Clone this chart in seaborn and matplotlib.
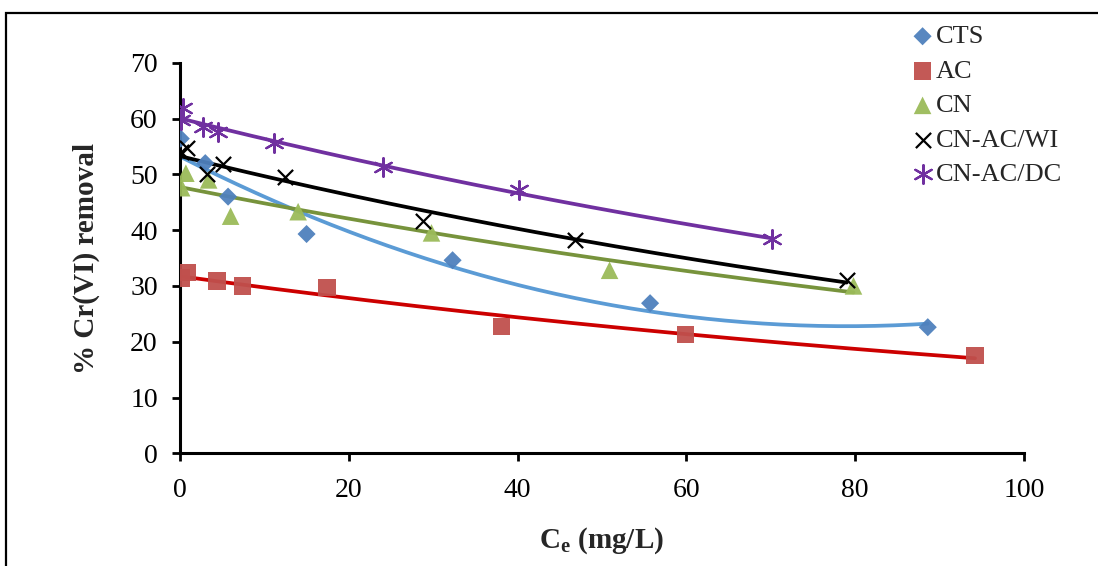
import numpy as np
import pandas as pd
import matplotlib
matplotlib.use("Agg")
import matplotlib.pyplot as plt
from matplotlib.patches import Rectangle
import seaborn as sns

# ---- data ----
cts_x = [0.1, 3.0, 5.7, 15.0, 32.3, 55.7, 88.6]
cts_y = [56.4, 52.0, 46.0, 39.3, 34.6, 26.9, 22.6]

ac_x = [0.2, 0.9, 4.4, 7.4, 17.4, 38.1, 59.9, 94.2]
ac_y = [31.4, 32.4, 30.9, 30.0, 29.7, 22.7, 21.3, 17.5]

cn_x = [0.2, 0.7, 3.4, 6.0, 14.0, 29.8, 50.9, 79.8]
cn_y = [47.6, 50.2, 49.0, 42.5, 43.3, 39.5, 32.8, 30.0]

wi_x = [0.1, 0.8, 3.2, 5.1, 12.4, 28.8, 46.8, 79.0]
wi_y = [54.0, 54.8, 50.1, 51.8, 49.5, 41.6, 38.3, 31.1]

dc_x = [0.4, 0.1, 2.7, 4.5, 11.1, 24.0, 40.2, 70.2]
dc_y = [61.8, 59.7, 58.4, 57.5, 55.7, 51.3, 47.1, 38.4]

names = ["CTS", "AC", "CN", "CN-AC/WI", "CN-AC/DC"]
xticks = [0, 20, 40, 60, 80, 100]
yticks = [0, 10, 20, 30, 40, 50, 60, 70]

series = {
    "CTS": (cts_x, cts_y),
    "AC": (ac_x, ac_y),
    "CN": (cn_x, cn_y),
    "CN-AC/WI": (wi_x, wi_y),
    "CN-AC/DC": (dc_x, dc_y),
}

# ---- styles ----
marker_col = {"CTS": "#4F81BD", "AC": "#C0504D", "CN": "#9BBB59",
              "CN-AC/WI": "#000000", "CN-AC/DC": "#7030A0"}
line_col = {"CTS": "#5B9BD5", "AC": "#CC0000", "CN": "#77933C",
            "CN-AC/WI": "#000000", "CN-AC/DC": "#7030A0"}
markers = {"CTS": "D", "AC": "s", "CN": "^", "CN-AC/WI": "x",
           "CN-AC/DC": (6, 2, 0)}
sizes = {"CTS": 85, "AC": 160, "CN": 160, "CN-AC/WI": 120, "CN-AC/DC": 180}
fit_kind = {"CTS": "poly2", "AC": "exp", "CN": "exp",
            "CN-AC/WI": "exp", "CN-AC/DC": "exp"}

sns.set_theme(style="white")
plt.rcParams["font.family"] = ["Liberation Serif", "DejaVu Serif"]
plt.rcParams["mathtext.fontset"] = "custom"
plt.rcParams["mathtext.rm"] = "Liberation Serif"
plt.rcParams["mathtext.bf"] = "Liberation Serif:bold"

fig = plt.figure(figsize=(10.98, 5.66), dpi=100)
ax = fig.add_axes([0.1639, 0.1991, 0.9326 - 0.1639, 0.8892 - 0.1991])
ax.set_facecolor("white")

frames = []
for n in names:
    x, y = series[n]
    frames.append(pd.DataFrame({"Ce": x, "removal": y, "series": n}))
df = pd.concat(frames, ignore_index=True)

# trend lines
for n in names:
    x = np.array(series[n][0])
    y = np.array(series[n][1])
    xs = np.linspace(x.min(), x.max(), 200)
    if fit_kind[n] == "poly2":
        c = np.polyfit(x, y, 2)
        ys = np.polyval(c, xs)
    else:
        c = np.polyfit(x, np.log(y), 1)
        ys = np.exp(np.polyval(c, xs))
    sns.lineplot(x=xs, y=ys, ax=ax, color=line_col[n], linewidth=2.7,
                 zorder=2, legend=False)

# markers
for n in names:
    sub = df[df["series"] == n]
    filled = n not in ("CN-AC/WI", "CN-AC/DC")
    kw = dict(edgecolor="none", alpha=0.95) if filled else dict(linewidth=1.6)
    sns.scatterplot(data=sub, x="Ce", y="removal", ax=ax, marker=markers[n],
                    color=marker_col[n], s=sizes[n], label=n, zorder=3, **kw)

ax.set_xlim(0, 100)
ax.set_ylim(0, 70)
ax.set_xticks(xticks)
ax.set_yticks(yticks)
ax.tick_params(axis="both", direction="out", length=6, width=2,
               labelsize=20, colors="black")
ax.tick_params(axis="x", bottom=True, pad=12)
ax.tick_params(axis="y", left=True, pad=10)
for s in ["top", "right"]:
    ax.spines[s].set_visible(False)
for s in ["left", "bottom"]:
    ax.spines[s].set_color("black")
    ax.spines[s].set_linewidth(2.2)

ax.set_xlabel(r"C$_{\mathbf{e}}$ (mg/L)", fontsize=21, fontweight="bold",
              labelpad=16)
ax.set_ylabel("% Cr(VI) removal", fontsize=21, fontweight="bold", labelpad=22)
ax.grid(False)

leg = ax.legend(loc="upper left", bbox_to_anchor=(0.815, 0.975),
                bbox_transform=fig.transFigure, frameon=False, fontsize=19,
                handletextpad=-0.15, labelspacing=0.42, borderaxespad=0,
                handlelength=1.3)

# outer frame (left and top edges visible)
fig.patches.append(Rectangle((6 / 1098, -0.1), 1.2, (566 - 13) / 566 + 0.1,
                             transform=fig.transFigure, fill=False,
                             edgecolor="black", linewidth=1.6))

fig.savefig("out.png", dpi=100, facecolor="white")
